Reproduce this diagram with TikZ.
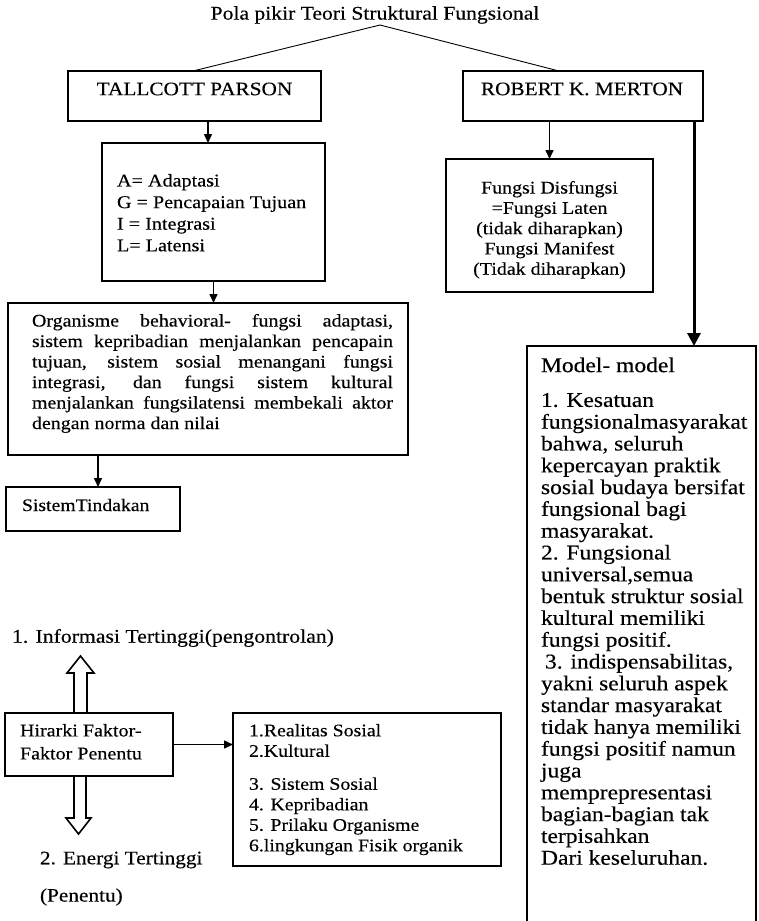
\documentclass[tikz,border=0pt]{standalone}
\usepackage{fontspec}
\setmainfont{Liberation Serif}[FakeStretch=1.12,FakeBold=0.3]
\usetikzlibrary{arrows.meta,calc}
\newcommand{\fs}[2]{\fontsize{#1}{#2}\selectfont}
\tikzset{
  box/.style={draw, inner sep=0pt, outer sep=0pt, anchor=north west, line width=#1},
  box/.default=1.5pt,
  txt/.style={inner sep=0pt, outer sep=0pt},
  arr/.style={line width=1.5pt, -{Triangle[length=9pt,width=8pt]}},
  tarr/.style={line width=3pt, -{Triangle[length=13pt,width=13pt]}},
  hollow/.style={draw, line width=1.6pt, line join=miter},
  thinline/.style={line width=0.9pt},
}
\begin{document}
\begin{tikzpicture}[x=1pt,y=-1pt]
\useasboundingbox[fill=white] (0,0) rectangle (759,921);

% title
\node[txt, font=\fs{19.3}{23}] (title) at (375,15) {Pola pikir Teori Struktural Fungsional};
\coordinate (apex) at (380,25);

% top boxes
\node[box=1.3pt, minimum width=253pt, minimum height=50pt] (tp) at (68,71) {};
\node[txt, font=\fs{19}{23}] (tp-t) at (194.5,89) {TALLCOTT PARSON};
\node[box=1.3pt, minimum width=240pt, minimum height=50pt] (rm) at (463,71) {};
\node[txt, font=\fs{19}{23}] (rm-t) at (582,89) {ROBERT K. MERTON};

\draw[thinline] (apex) -- ([xshift=125pt]tp.north west);
\draw[thinline] (apex) -- ([xshift=96pt]rm.north west);

% Parsons branch
\node[box=2.5pt, minimum width=223pt, minimum height=138pt] (agil) at (102,143) {};
\node[txt, anchor=north west, align=left, font=\fs{18}{21.6}] (agil-t) at (117,174)
  {A= Adaptasi\\G = Pencapaian Tujuan\\I = Integrasi\\L= Latensi};
\coordinate (ax) at (208,0);
\draw[arr] (tp.south -| ax) -- (agil.north -| ax);

\node[box=2pt, minimum width=400pt, minimum height=152pt] (org) at (8,303) {};
\node[txt, anchor=north west, align=left, font=\fs{17.8}{20.5}] (org-t) at (32,314)
  {\makebox[361pt][s]{Organisme behavioral- fungsi adaptasi,}\\
   \makebox[361pt][s]{sistem kepribadian menjalankan pencapain}\\
   \makebox[361pt][s]{tujuan, sistem sosial menangani fungsi}\\
   \makebox[361pt][s]{integrasi, dan fungsi sistem kultural}\\
   \makebox[361pt][s]{menjalankan fungsilatensi membekali aktor}\\
   dengan norma dan nilai};
\draw[arr] (agil.south) -- (agil.south |- org.north);

\node[box=2pt, minimum width=174pt, minimum height=44pt] (st) at (6,487) {};
\node[txt, anchor=west, font=\fs{17.6}{21}] (st-t) at (22,505) {SistemTindakan};
\coordinate (bx) at (98,0);
\draw[arr] (org.south -| bx) -- (st.north -| bx);

% Merton branch
\node[box=2.5pt, minimum width=207pt, minimum height=133pt] (fd) at (446,159) {};
\node[txt, anchor=north, align=center, font=\fs{17.8}{20.3}] (fd-t) at (549.5,181)
  {Fungsi Disfungsi\\=Fungsi Laten\\(tidak diharapkan)\\Fungsi Manifest\\(Tidak diharapkan)};
\draw[arr] (rm.south -| fd.north) -- (fd.north);

\node[box=2pt, minimum width=229pt, minimum height=600pt] (mm) at (527,346) {};
\node[txt, anchor=north west, align=left, font=\fs{21}{21.8}] (mm-t) at (541,357.5)
  {Model- model\\[13pt]
   1. Kesatuan\\
   fungsionalmasyarakat\\
   bahwa, seluruh\\
   kepercayan praktik\\
   sosial budaya bersifat\\
   fungsional bagi\\
   masyarakat.\\
   2. Fungsional\\
   universal,semua\\
   bentuk struktur sosial\\
   kultural memiliki\\
   fungsi positif.\\
   \hspace*{4pt}3. indispensabilitas,\\
   yakni seluruh aspek\\
   standar masyarakat\\
   tidak hanya memiliki\\
   fungsi positif namun\\
   juga\\
   memprepresentasi\\
   bagian-bagian tak\\
   terpisahkan\\
   Dari keseluruhan.};
\coordinate (mx) at (694,0);
\draw[tarr] (rm.south -| mx) -- (mm.north -| mx);

% hierarchy
\node[box=2pt, minimum width=168pt, minimum height=63pt] (hk) at (5,713) {};
\node[txt, anchor=north west, align=left, font=\fs{17.9}{23}] (hk-t) at (20,724)
  {Hirarki Faktor-\\Faktor Penentu};
\node[box=2pt, minimum width=268pt, minimum height=153pt] (rb) at (233,713) {};
\node[txt, anchor=north west, align=left, font=\fs{17.7}{20.5}] (rb-t) at (249,724)
  {1.Realitas Sosial\\2.Kultural\\[12.5pt]3. Sistem Sosial\\4. Kepribadian\\5. Prilaku Organisme\\6.lingkungan Fisik organik};
\draw[arr] (hk.east) -- (hk.east -| rb.west);

\node[txt, anchor=west, font=\fs{19.4}{23}] (info) at (12,638) {1. Informasi Tertinggi(pengontrolan)};
\node[txt, anchor=west, font=\fs{19}{23}] (energi) at (40,860) {2. Energi Tertinggi};
\node[txt, anchor=west, font=\fs{19}{23}] (penentu) at (40,897) {(Penentu)};

\draw[hollow] (74,713) -- (74,673) -- (67,673) -- (80.5,656) -- (94,673) -- (87,673) -- (87,713);
\draw[hollow] (74,776) -- (74,818) -- (66,818) -- (78.5,834) -- (91,818) -- (86,818) -- (86,776);
\end{tikzpicture}
\end{document}
